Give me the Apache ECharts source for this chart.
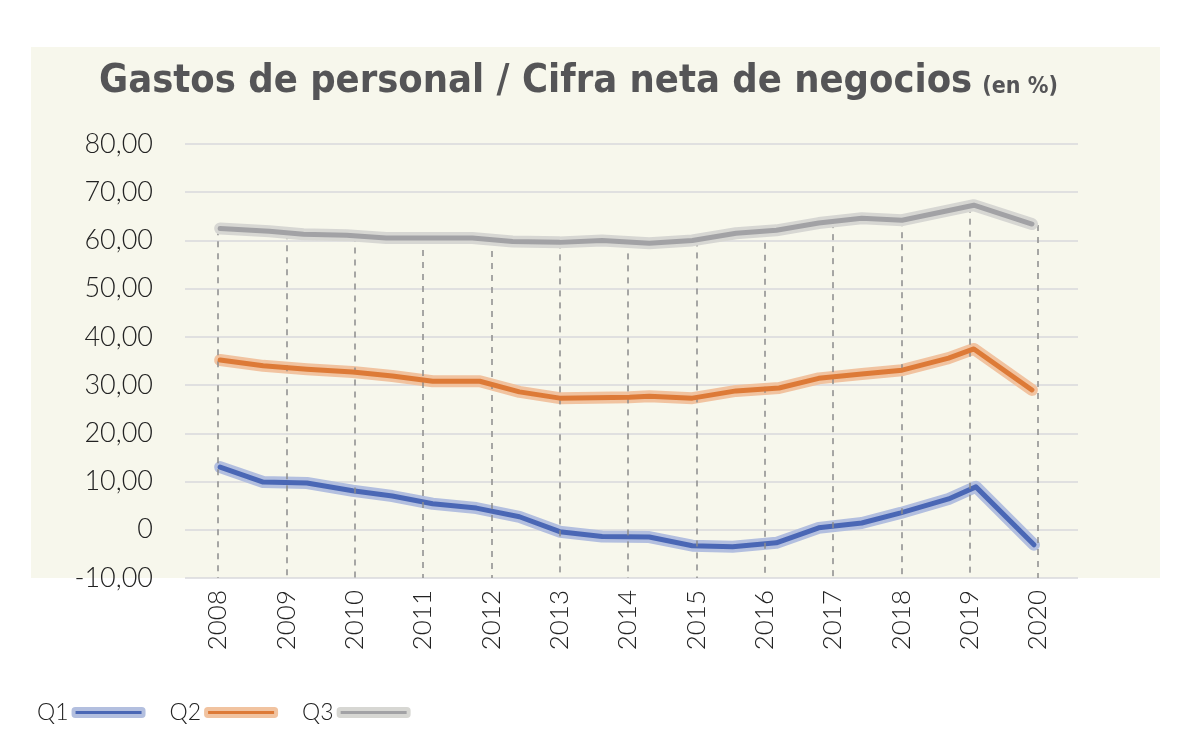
<!DOCTYPE html>
<html>
<head>
<meta charset="utf-8">
<script src="https://cdn.jsdelivr.net/npm/echarts@6/dist/echarts.min.js"></script>
<style>html,body{margin:0;padding:0;background:#fff}#c{width:1200px;height:750px}</style>
</head>
<body>
<div id="c"></div>
<script>
// Year ticks
const years = [2008,2009,2010,2011,2012,2013,2014,2015,2016,2017,2018,2019,2020];
// Line vertices [fractional year, value %]
const q1 = [[2008.03,13.0],[2008.66,9.9],[2009.30,9.7],[2009.97,8.1],[2010.55,7.0],[2011.14,5.4],[2011.78,4.5],[2012.41,2.7],[2013.0,-0.4],[2013.62,-1.4],[2014.31,-1.5],[2014.94,-3.3],[2015.53,-3.5],[2016.17,-2.7],[2016.79,0.4],[2017.42,1.4],[2017.99,3.5],[2018.69,6.4],[2019.09,8.9],[2019.94,-3.1]];
const q2 = [[2008.03,35.2],[2008.66,34.0],[2009.30,33.3],[2009.97,32.7],[2010.55,31.9],[2011.14,30.8],[2011.83,30.8],[2012.41,28.6],[2013.0,27.3],[2014.02,27.5],[2014.31,27.7],[2014.94,27.3],[2015.58,28.8],[2016.21,29.4],[2016.79,31.4],[2017.42,32.3],[2018.01,33.1],[2018.69,35.6],[2019.06,37.5],[2019.91,29.0]];
const q3 = [[2008.03,62.5],[2008.75,61.9],[2009.25,61.3],[2009.88,61.1],[2010.46,60.5],[2011.72,60.5],[2012.31,59.8],[2013.0,59.6],[2013.62,60.0],[2014.31,59.4],[2014.94,60.0],[2015.58,61.5],[2016.17,62.1],[2016.79,63.6],[2017.42,64.6],[2018.01,64.2],[2019.06,67.3],[2019.91,63.4]];
// Top of the dashed year guide lines (Q3 level at each year)
const dropTop = [62.3,61.5,61.0,60.5,60.3,59.6,59.8,60.0,62.0,63.8,64.2,67.0,63.2];
const seriesNames = ['Q1','Q2','Q3'];
const coreColors = ['#4a67b5','#dd7a37','#a2a2a5'];
const haloColors = ['#b3bfdf','#f1c3a0','#d7d7d3'];

const chart = echarts.init(document.getElementById('c'), null, {renderer:'canvas'});
const dataSets = [q1,q2,q3];
const series = [];
series.push({
  name:'guides', type:'line', data:[], z:1, silent:true,
  markLine:{
    silent:true, symbol:'none', animation:false,
    label:{show:false},
    lineStyle:{color:'#8c8c8c', width:1.5, type:[6,6]},
    data: years.map((y,i)=>[{coord:[y,dropTop[i]]},{coord:[y,-10]}])
  }
});
dataSets.forEach((d,i)=>{
  series.push({
    name:seriesNames[i]+'_halo', type:'line', data:d, showSymbol:false, z:2+i*2, silent:true,
    lineStyle:{color:haloColors[i], width:12, cap:'round', join:'round'}
  });
  series.push({
    name:seriesNames[i], type:'line', data:d, showSymbol:false, z:3+i*2, silent:true,
    color:coreColors[i],
    lineStyle:{color:coreColors[i], width:5, cap:'round', join:'round'}
  });
});

const labelFont = "Lato, 'Open Sans', sans-serif";
const titleFont = "'DejaVu Sans Condensed','DejaVu Sans',sans-serif";
chart.setOption({
  animation:false,
  backgroundColor:'#ffffff',
  graphic:[{type:'rect', shape:{x:31, y:47, width:1129, height:531}, style:{fill:'#f7f7ec'}, z:-10, silent:true}],
  title:{
    text:'{a|Gastos de personal / Cifra neta de negocios}  {b|(en %)}',
    left:94, top:57,
    textStyle:{
      rich:{
        a:{fontFamily:titleFont, fontWeight:'bold', fontSize:39.5, color:'#555557'},
        b:{fontFamily:titleFont, fontWeight:'bold', fontSize:23, color:'#555557', verticalAlign:'bottom', padding:[0,0,3,0]}
      }
    }
  },
  legend:{
    left:32, top:696, align:'right', itemWidth:70, itemHeight:7, itemGap:24,
    textStyle:{fontFamily:labelFont, fontSize:23, fontWeight:300, color:'#222', padding:[6,0,0,0]},
    data: seriesNames.map((n,i)=>({name:n, icon:'roundRect', itemStyle:{color:coreColors[i], borderColor:haloColors[i], borderWidth:4}}))
  },
  grid:{left:185, right:122, top:144, bottom:172},
  xAxis:{
    type:'value', min:2007.516, max:2020.584,
    axisLine:{show:false}, axisTick:{show:false}, splitLine:{show:false},
    axisLabel:{customValues:years, rotate:90, margin:12, fontFamily:labelFont, fontSize:26, fontWeight:300, color:'#222', formatter:v=>String(Math.round(v))}
  },
  yAxis:{
    type:'value', min:-10, max:80, interval:10,
    axisLine:{show:false}, axisTick:{show:false},
    splitLine:{lineStyle:{color:'#d9d9dd', width:1.5}},
    axisLabel:{margin:32, fontFamily:labelFont, fontSize:27, fontWeight:300, color:'#222',
      formatter:v=> v===0 ? '0' : v.toFixed(2).replace('.',',')}
  },
  series:series
});
</script>
</body>
</html>
